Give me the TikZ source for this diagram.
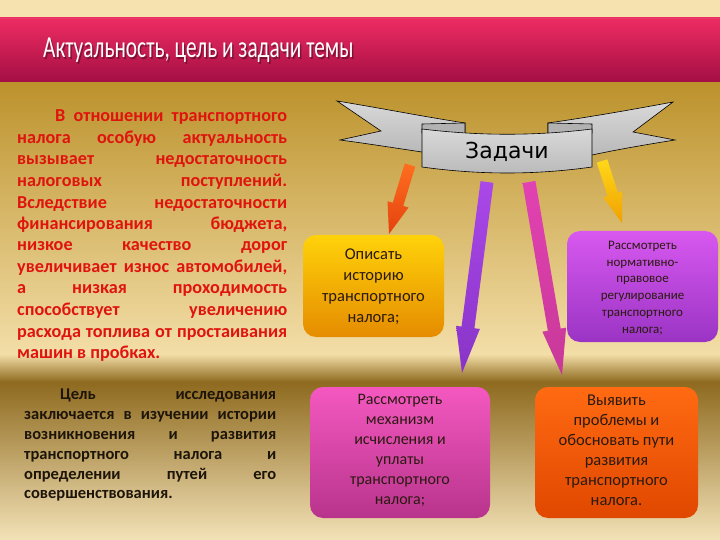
\documentclass[tikz,border=0pt]{standalone}
\usepackage{fontspec}
\setmainfont{Carlito}
\newfontfamily\dejavu{DejaVu Sans}
\usetikzlibrary{calc}
\definecolor{cream}{HTML}{F6E2AE}
\definecolor{titletop}{HTML}{EE2C62}
\definecolor{titlebot}{HTML}{A20E44}
\definecolor{gold}{HTML}{BC922C}
\definecolor{paleA}{HTML}{F3DEA8}
\definecolor{brownband}{HTML}{8E6A1F}
\definecolor{paleB}{HTML}{F3E2B7}
\definecolor{redtext}{HTML}{E0140E}
\definecolor{darktext}{HTML}{1E150A}
\definecolor{boxtext}{HTML}{2A1A10}
\tikzset{
  tasktext/.style={text=boxtext, align=center, inner sep=0pt},
  taskbox/.style={rounded corners=13pt},
  ribbonline/.style={draw=black, line width=0.6pt},
  tailfill/.style={ribbonline, top color=gray!30, middle color=white!92!gray, bottom color=gray!55},
  foldfill/.style={ribbonline, fill=gray!60},
}
\newcommand\blkarrow[6]{%
  \coordinate (#1h) at ($(#2)!#5!(#1)$);
  \path[#6] ($(#1)!#3!90:(#2)$) -- ($(#1h)!#3!90:(#2)$) -- ($(#1h)!#4!90:(#2)$) -- (#2)
    -- ($(#1h)!#4!-90:(#2)$) -- ($(#1h)!#3!-90:(#2)$) -- ($(#1)!#3!-90:(#2)$) -- cycle;}
\begin{document}
\begin{tikzpicture}[x=1pt,y=-1pt]
\useasboundingbox (0,0) rectangle (720,540);
% background
\fill[cream] (0,0) rectangle (720,18);
\shade[top color=titletop, bottom color=titlebot] (0,18) rectangle (720,83);
\draw[line width=1.5pt, color={rgb,255:red,232;green,58;blue,106}] (0,18.5) -- (720,18.5);
\draw[line width=1.5pt, color={rgb,255:red,138;green,12;blue,56}] (0,82.5) -- (720,82.5);
\shade[top color=gold, bottom color=paleA] (0,83) rectangle (720,354);
\shade[top color=paleA, bottom color=brownband] (0,354) rectangle (720,382);
\shade[top color=brownband, bottom color=paleB] (0,382) rectangle (720,540);
% title
\node[anchor=base west, inner sep=0, text=black, opacity=0.35] at (44.5,59.5)
  {\scalebox{0.7}[1]{\fontsize{30.5}{32}\selectfont Актуальность, цель и задачи темы}};
\node (title) [anchor=base west, inner sep=0, text=white] at (43,58)
  {\scalebox{0.7}[1]{\fontsize{30.5}{32}\selectfont Актуальность, цель и задачи темы}};
% left paragraphs
\node (par1) [anchor=north west, inner sep=0, text width=270pt, align=justify, text=redtext,
  font={\bfseries\fontsize{18.2}{21.5}\selectfont}]
  at (17,110) {%
  \hspace*{38pt}В отношении транспортного\linebreak
  налога особую актуальность\linebreak
  вызывает недостаточность\linebreak
  налоговых поступлений.\linebreak
  Вследствие недостаточности\linebreak
  финансирования бюджета,\linebreak
  низкое качество дорог\linebreak
  увеличивает износ автомобилей,\linebreak
  а низкая проходимость\linebreak
  способствует увеличению\linebreak
  расхода топлива от простаивания\linebreak
  машин в пробках.};
\node (par2) [anchor=north west, inner sep=0, text width=252pt, align=justify, text=darktext,
  font={\bfseries\fontsize{16.5}{19.8}\selectfont}]
  at (24,389) {%
  \hspace*{36pt}Цель исследования\linebreak
  заключается в изучении истории\linebreak
  возникновения и развития\linebreak
  транспортного налога и\linebreak
  определении путей его\linebreak
  совершенствования.};
% ribbon
\path[tailfill] (337,101) .. controls (380,108) and (420,116) .. (465,123) -- (465,150)
  -- (422,152) .. controls (395,148) and (370,144) .. (340,140) -- (381,131) -- cycle;
\path[tailfill] (673,102) .. controls (630,110) and (590,117) .. (548,123) -- (548,150)
  -- (592,155) .. controls (620,149) and (650,144) .. (675,140) -- (633,132) -- cycle;
\path[foldfill] (422,124) -- (465,123) -- (465,135) -- (422,133) -- cycle;
\path[foldfill] (548,123) -- (592,124) -- (592,133) -- (548,135) -- cycle;
\path[ribbonline, top color=gray!30, middle color=white!90!gray, bottom color=gray!55]
  (422,129) .. controls (480,136) and (535,136) .. (592,129) -- (592,167)
  .. controls (535,175) and (480,175) .. (422,167) -- cycle;
\node (zadachi) at (507,152) {\dejavu\fontsize{22}{24}\selectfont Задачи};
% task boxes
\shade[taskbox, top color={rgb,255:red,255;green,210;blue,10}, bottom color={rgb,255:red,229;green,140;blue,0}]
  (303,235) rectangle (444,337);
\node (boxA) [tasktext, font={\fontsize{16.5}{21}\selectfont}] at (373.5,287) {Описать\\историю\\транспортного\\налога;};
\shade[taskbox, top color={rgb,255:red,216;green,88;blue,240}, bottom color={rgb,255:red,154;green,52;blue,196}]
  (567,231) rectangle (718,342);
\node (boxB) [tasktext, font={\fontsize{13}{16.7}\selectfont}] at (642.5,288) {Рассмотреть\\нормативно-\\правовое\\регулирование\\транспортного\\налога;};
\shade[taskbox, top color={rgb,255:red,244;green,88;blue,192}, bottom color={rgb,255:red,184;green,52;blue,140}]
  (310,387) rectangle (490,518);
\node (boxC) [tasktext, font={\fontsize{16}{20}\selectfont}] at (400,450) {Рассмотреть\\механизм\\исчисления и\\уплаты\\транспортного\\налога;};
\shade[taskbox, top color={rgb,255:red,255;green,106;blue,18}, bottom color={rgb,255:red,224;green,72;blue,0}]
  (535,387) rectangle (698,518);
\node (boxD) [tasktext, font={\fontsize{16.5}{20}\selectfont}] at (616.5,450) {Выявить\\проблемы и\\обосновать пути\\развития\\транспортного\\налога.};
% arrows
\coordinate (a1s) at (410,165); \coordinate (a1t) at (389,234);
\coordinate (a2s) at (487,182); \coordinate (a2t) at (462,373);
\coordinate (a3s) at (529,182); \coordinate (a3t) at (562,375);
\coordinate (a4s) at (602,161); \coordinate (a4t) at (622,223);
\blkarrow{a1s}{a1t}{5.5pt}{11pt}{31pt}{top color={rgb,255:red,255;green,110;blue,32}, bottom color={rgb,255:red,228;green,66;blue,14}}
\blkarrow{a2s}{a2t}{6.5pt}{12pt}{46pt}{top color={rgb,255:red,170;green,72;blue,232}, bottom color={rgb,255:red,136;green,52;blue,200}}
\blkarrow{a3s}{a3t}{6.5pt}{12pt}{46pt}{top color={rgb,255:red,226;green,66;blue,178}, bottom color={rgb,255:red,200;green,56;blue,152}}
\blkarrow{a4s}{a4t}{5.5pt}{10pt}{30pt}{top color={rgb,255:red,255;green,216;blue,26}, bottom color={rgb,255:red,240;green,160;blue,0}}
\end{tikzpicture}
\end{document}
